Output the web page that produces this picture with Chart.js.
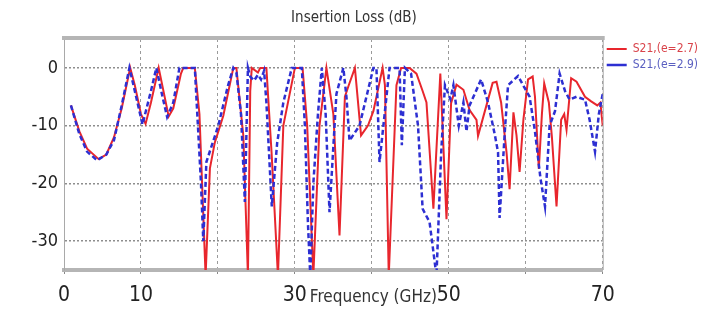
<!DOCTYPE html>
<html>
<head>
<meta charset="utf-8">
<script src="https://cdn.jsdelivr.net/npm/chart.js@4.4.1/dist/chart.umd.min.js"></script>
<style>
  html, body { margin: 0; padding: 0; background: #ffffff; }
  #wrap { width: 710px; height: 314px; position: relative; }
</style>
</head>
<body>
<div id="wrap"><canvas id="c" width="710" height="314"></canvas></div>
<script>
// ---- data ----
const chartTitle = 'Insertion Loss (dB)';
const xAxisTitle = 'Frequency (GHz)';
const seriesNames = ['S21,(e=2.7)', 'S21,(e=2.9)'];
const xTickLabels = [0, 10, 30, 50, 70];
const yTickValues = [0, -10, -20, -30];

const freqRed = [0.9, 2, 3, 4.5, 5.5, 6.5, 7.5, 8.6, 9.2, 10.0, 10.6, 11.3, 12.3, 13.0, 13.6, 14.2, 15.2, 15.5, 17.0, 17.6, 18.0, 18.4, 18.96, 19.6, 20.7, 22.0, 22.4, 23.3, 23.9, 24.2, 24.4, 25.2, 25.5, 26.3, 26.97, 27.8, 28.5, 30.0, 31.0, 31.6, 32.4, 33.2, 34.1, 35.0, 35.8, 36.5, 37.0, 37.8, 38.6, 39.5, 40.2, 41.4, 41.7, 42.2, 43.2, 43.8, 44.9, 45.8, 46.6, 47.1, 48.0, 48.9, 49.7, 50.3, 51.0, 51.9, 52.7, 53.6, 53.8, 54.5, 55.7, 56.2, 56.8, 57.5, 57.9, 58.4, 58.8, 59.2, 59.7, 60.3, 60.9, 61.2, 61.7, 62.1, 62.4, 63.0, 63.4, 64.0, 64.6, 65.0, 65.3, 65.9, 66.6, 67.7, 68.5, 69.3, 69.7, 70.0];
const lossRed = [-6.5, -11, -14, -15.8, -15, -12, -7, 0, -3, -8, -9.7, -6, 0, -4.5, -8.4, -7, -1, 0, 0, -8, -22, -36, -17.4, -12.9, -8.3, 0, 0, -11.7, -36, -4, 0, -0.8, 0, 0, -14.6, -36, -10, 0, 0, -10, -36, -10, 0, -8, -29, -5, -3, 0, -11.7, -10, -7.5, 0, -3, -36, -3, 0, 0, -1, -4, -6, -24.4, -1, -26.2, -6.1, -2.9, -3.8, -7.3, -9, -11.8, -8.4, -2.6, -2.4, -6, -14.6, -21, -7.7, -11.7, -18, -8.9, -2, -1.5, -5, -17.5, -8, -2.7, -6, -12, -24, -9, -8, -10.7, -1.8, -2.4, -5, -5.8, -6.5, -6, -10];

const freqBlue = [0.9, 2, 3, 4.3, 5.5, 6.5, 7.5, 8.5, 9.2, 10.2, 11.3, 12.0, 12.8, 13.4, 14.2, 15.0, 17.0, 17.4, 17.8, 18.1, 18.5, 20.05, 21.3, 22.0, 22.4, 23.0, 23.5, 23.9, 24.2, 24.7, 25.2, 25.6, 26.0, 26.3, 27.0, 27.7, 28.5, 29.6, 30.9, 31.3, 31.7, 32.0, 32.4, 33.0, 33.5, 34.0, 34.5, 35.4, 36.3, 36.7, 37.1, 38.4, 40.2, 40.6, 41.0, 42.3, 43.6, 43.9, 44.3, 45.1, 46.0, 46.6, 47.5, 48.4, 49.0, 49.5, 50.2, 50.6, 51.3, 51.9, 52.3, 52.7, 54.2, 55.1, 56.0, 56.4, 56.6, 57.3, 57.7, 59.0, 59.7, 60.5, 61.2, 61.9, 62.5, 63.1, 63.8, 64.4, 65.1, 65.7, 66.6, 67.7, 68.3, 69.0, 69.5, 70.0];
const lossBlue = [-6.5, -11.5, -14.5, -16, -15, -12.5, -6.5, 0, -4, -9.8, -4, 0, -5, -8.5, -6, 0, 0, -10, -20, -30, -16.3, -10, -3.1, 0, -0.8, -8, -23.2, 0, -1.5, -2.2, -1.2, -2, -0.5, -6, -24, -13, -6, 0, 0, -10, -27, -36, -20, -8, 0, -8, -25, -4.5, 0, -5, -12.6, -10, 0, 0, -16.3, 0, 0, -13.4, 0, -1, -10, -24.4, -26.7, -36, -15, -3, -5.4, -3, -10, -6, -11, -6.5, -2, -6, -11.7, -14.6, -26, -10.6, -3, -1.4, -3.1, -5, -11, -19, -24, -10, -7.5, -1, -4, -5.5, -5, -5.5, -9, -14.5, -8, -4.5];

const toPoints = (xs, ys) => xs.map((x, i) => ({ x: x, y: ys[i] }));

const FONT = "'Liberation Sans Narrow', 'Arial Narrow', 'DejaVu Sans Condensed', 'Liberation Sans', sans-serif";

const framePlugin = {
  id: 'frame',
  beforeDatasetsDraw(chart) {
    const { ctx, chartArea: a } = chart;
    ctx.save();
    ctx.strokeStyle = '#a9a9a9';
    ctx.lineWidth = 1;
    ctx.beginPath();
    ctx.moveTo(a.right + 0.5, a.top);
    ctx.lineTo(a.right + 0.5, a.bottom);
    ctx.stroke();
    ctx.strokeStyle = '#b5b5b5';
    ctx.lineWidth = 4;
    ctx.beginPath();
    ctx.moveTo(a.left - 2, a.top - 1);
    ctx.lineTo(a.right + 2, a.top - 1);
    ctx.stroke();
    ctx.restore();
  },
  afterDraw(chart) {
    const { ctx } = chart;
    const xs = chart.scales.x;
    ctx.save();
    ctx.font = "17px " + FONT;
    ctx.fillStyle = '#333333';
    ctx.textAlign = 'center';
    ctx.textBaseline = 'middle';
    ctx.fillText(xAxisTitle, xs.getPixelForValue(40.2), 298);
    ctx.restore();
  }
};

new Chart(document.getElementById('c'), {
  type: 'line',
  data: {
    datasets: [
      {
        label: seriesNames[0],
        data: toPoints(freqRed, lossRed),
        borderColor: '#e8262d',
        backgroundColor: '#e8262d',
        borderWidth: 2,
        pointRadius: 0,
        tension: 0,
        fill: false,
        order: 1
      },
      {
        label: seriesNames[1],
        data: toPoints(freqBlue, lossBlue),
        borderColor: '#2d2fd2',
        backgroundColor: '#2d2fd2',
        borderWidth: 2.5,
        borderDash: [5, 3],
        pointRadius: 0,
        tension: 0,
        fill: false,
        order: 0
      }
    ]
  },
  options: {
    responsive: false,
    animation: false,
    devicePixelRatio: 1,
    layout: { padding: { top: 0, right: 2, bottom: 0, left: 0 } },
    scales: {
      x: {
        type: 'linear',
        min: 0,
        max: 70,
        afterFit: (scale) => { scale.height = 44; },
        ticks: {
          stepSize: 10,
          autoSkip: false,
          maxRotation: 0,
          padding: 9,
          color: '#222222',
          font: { family: FONT, size: 21 },
          callback: (v) => (xTickLabels.includes(v) ? String(v) : '')
        },
        grid: { color: '#9a9a9a', lineWidth: 1, tickLength: 4, tickColor: '#888888' },
        border: { display: true, color: '#b5b5b5', width: 4, dash: [3, 3] }
      },
      y: {
        min: -35,
        max: 5,
        afterFit: (scale) => { scale.width = 64; },
        afterBuildTicks: (axis) => { axis.ticks = yTickValues.map(v => ({ value: v })); },
        ticks: {
          padding: 6,
          color: '#222222',
          font: { family: FONT, size: 18 },
          callback: (v) => String(v)
        },
        grid: { color: '#8e8e8e', lineWidth: 1.5, drawTicks: false },
        border: { display: true, color: '#a9a9a9', width: 1, dash: [2, 2] }
      }
    },
    plugins: {
      title: {
        display: true,
        text: chartTitle,
        color: '#333333',
        font: { family: FONT, size: 15, weight: 'normal' },
        padding: { top: 9, bottom: 12 }
      },
      legend: {
        position: 'right',
        align: 'start',
        fullSize: false,
        labels: {
          usePointStyle: true,
          pointStyle: 'line',
          pointStyleWidth: 20,
          padding: 4,
          font: { family: FONT, size: 12 },
          sort: (a, b) => a.datasetIndex - b.datasetIndex,
          generateLabels: (chart) => {
            const items = Chart.defaults.plugins.legend.labels.generateLabels(chart);
            items.forEach(it => {
              it.fontColor = it.datasetIndex === 0 ? '#d9434a' : '#5a5fc0';
            });
            return items;
          }
        }
      },
      tooltip: { enabled: false }
    }
  },
  plugins: [framePlugin]
});
</script>
</body>
</html>
